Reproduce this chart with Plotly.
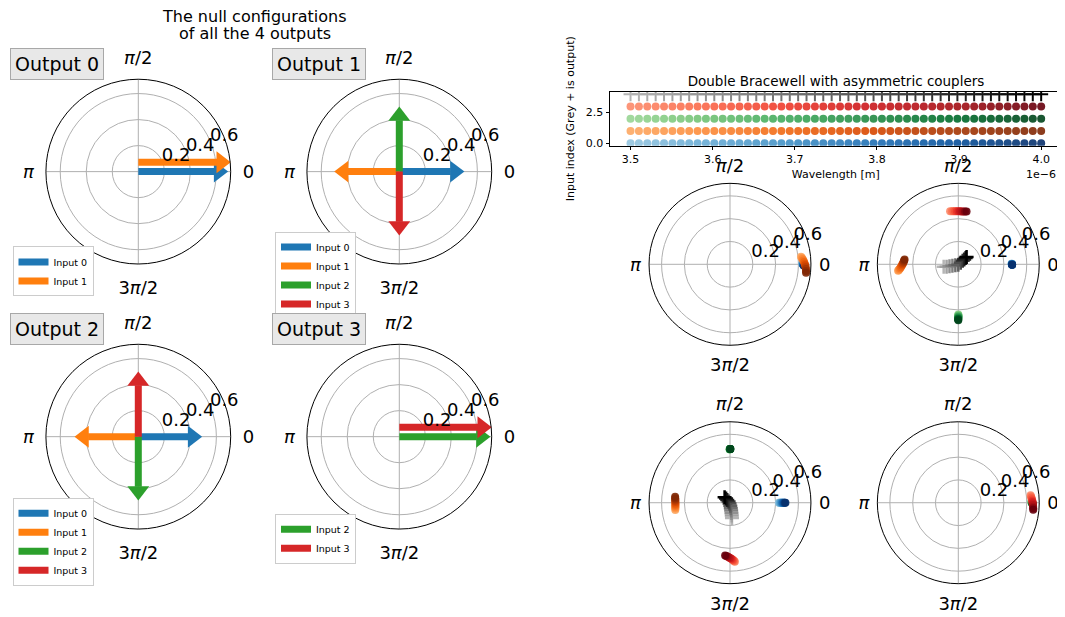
import numpy as np
import plotly.graph_objects as go
import plotly.colors as pc

FONT = "DejaVu Sans"
W, H = 1065, 617
BODY = 8                      # page body margin of the html page (px)
FW, FH = W - BODY, H - BODY   # figure size inside the window

# ---------------- data: null configurations (left, arrows) ----------------
input_names = ["Input 0", "Input 1", "Input 2", "Input 3"]
input_colors = ["#1f77b4", "#ff7f0e", "#2ca02c", "#d62728"]

null_inputs = [[0, 1], [0, 1, 2, 3], [0, 1, 2, 3], [2, 3]]
null_amp = [[0.69, 0.71], [0.50, 0.50, 0.50, 0.49], [0.49, 0.49, 0.49, 0.50], [0.70, 0.71]]
null_phase_deg = [[0, 0], [0, 180, 90, 270], [0, 180, 270, 90], [0, 0]]
null_offset = [[0.0, 0.072], [0.0, 0.0, 0.0, 0.0], [0.0, 0.0, 0.0, 0.0], [0.0, 0.072]]

# ---------------- data: wavelength scan (top right) ----------------
wavelength_um = [3.5000, 3.5102, 3.5204, 3.5306, 3.5408, 3.5510, 3.5612, 3.5714, 3.5816, 3.5918,
                 3.6020, 3.6122, 3.6224, 3.6327, 3.6429, 3.6531, 3.6633, 3.6735, 3.6837, 3.6939,
                 3.7041, 3.7143, 3.7245, 3.7347, 3.7449, 3.7551, 3.7653, 3.7755, 3.7857, 3.7959,
                 3.8061, 3.8163, 3.8265, 3.8367, 3.8469, 3.8571, 3.8673, 3.8776, 3.8878, 3.8980,
                 3.9082, 3.9184, 3.9286, 3.9388, 3.9490, 3.9592, 3.9694, 3.9796, 3.9898, 4.0000]
row_index = [0, 1, 2, 3, 4]          # inputs 0..3, 4 = output (grey +)
row_cmaps = ["Blues", "Oranges", "Greens", "Reds", "Greys"]
x_tick_vals_um = [3.5, 3.6, 3.7, 3.8, 3.9, 4.0]
x_tick_text = ["3.5", "3.6", "3.7", "3.8", "3.9", "4.0"]
y_tick_vals = [0.0, 2.5]
y_tick_text = ["0.0", "2.5"]

# ---------------- data: complex amplitudes per output (bottom right) -------
# radius and phase (deg), sampled from 3.5 um (first) to 4.0 um (last)
# Output 0
o0_in0_r = [0.634, 0.635, 0.637, 0.638, 0.640, 0.641, 0.643, 0.645, 0.646, 0.648, 0.650]
o0_in0_t = [0.8, 0.6, 0.4, 0.2, 0.0, -0.2, -0.4, -0.6, -0.8, -1.0, -1.2]
o0_in1_r = [0.626, 0.632, 0.638, 0.644, 0.650, 0.655, 0.660, 0.664, 0.667, 0.669, 0.671]
o0_in1_t = [6.0, 5.2, 4.2, 3.0, 1.8, 0.5, -0.8, -2.2, -3.6, -5.0, -6.4]
# Output 1
o1_in0_r = [0.468, 0.468, 0.469, 0.469, 0.470, 0.470, 0.471, 0.471, 0.472, 0.472, 0.472]
o1_in0_t = [0.6, 0.5, 0.4, 0.2, 0.1, 0.0, -0.1, -0.2, -0.4, -0.5, -0.6]
o1_in1_r = [0.531, 0.526, 0.519, 0.511, 0.503, 0.496, 0.489, 0.484, 0.479, 0.476, 0.473]
o1_in1_t = [186.2, 185.6, 184.8, 183.8, 182.6, 181.3, 180.0, 178.7, 177.4, 176.1, 174.8]
o1_in2_r = [0.440, 0.445, 0.450, 0.455, 0.460, 0.465, 0.470, 0.475, 0.480, 0.485, 0.490]
o1_in2_t = [270.0, 270.0, 270.1, 270.1, 270.1, 270.0, 270.0, 269.9, 269.9, 269.9, 270.0]
o1_in3_r = [0.470, 0.468, 0.467, 0.466, 0.465, 0.465, 0.465, 0.465, 0.466, 0.467, 0.468]
o1_in3_t = [98.8, 97.0, 95.2, 93.4, 91.6, 89.8, 88.0, 86.3, 84.5, 82.8, 81.1]
o1_out_r = [0.130, 0.105, 0.079, 0.053, 0.027, 0.004, 0.025, 0.049, 0.067, 0.085, 0.097]
o1_out_t = [189.5, 191.8, 192.5, 194.0, 198.4, 270.0, 31.0, 37.9, 39.8, 40.9, 41.4]
# Output 2
o2_in0_r = [0.428, 0.434, 0.440, 0.446, 0.452, 0.457, 0.463, 0.469, 0.475, 0.480, 0.486]
o2_in0_t = [0.0, 0.0, 0.0, 0.0, 0.0, 0.0, 0.0, 0.0, 0.0, 0.0, 0.0]
o2_in1_r = [0.484, 0.482, 0.481, 0.480, 0.479, 0.479, 0.479, 0.480, 0.481, 0.482, 0.484]
o2_in1_t = [187.5, 186.1, 184.8, 183.4, 182.0, 180.7, 179.3, 177.9, 176.5, 175.2, 173.8]
o2_in2_r = [0.469, 0.469, 0.470, 0.470, 0.470, 0.471, 0.471, 0.471, 0.472, 0.472, 0.472]
o2_in2_t = [90.4, 90.3, 90.3, 90.2, 90.1, 90.0, 89.9, 89.8, 89.8, 89.7, 89.6]
o2_in3_r = [0.520, 0.514, 0.508, 0.502, 0.496, 0.490, 0.484, 0.478, 0.473, 0.469, 0.465]
o2_in3_t = [274.7, 274.2, 273.6, 272.9, 272.0, 271.0, 269.9, 268.7, 267.4, 266.0, 264.7]
o2_out_r = [0.134, 0.112, 0.091, 0.069, 0.048, 0.026, 0.008, 0.016, 0.034, 0.050, 0.067]
o2_out_t = [277.4, 277.9, 278.1, 278.5, 278.3, 275.7, 238.0, 141.3, 135.0, 133.6, 135.0]
# Output 3
o3_in2_r = [0.640, 0.641, 0.643, 0.644, 0.646, 0.647, 0.649, 0.650, 0.652, 0.653, 0.655]
o3_in2_t = [0.8, 0.6, 0.4, 0.2, 0.0, -0.2, -0.4, -0.6, -0.8, -1.0, -1.2]
o3_in3_r = [0.637, 0.640, 0.643, 0.646, 0.649, 0.651, 0.653, 0.655, 0.657, 0.659, 0.660]
o3_in3_t = [5.9, 4.9, 3.8, 2.7, 1.6, 0.5, -0.6, -1.8, -3.0, -4.2, -5.4]

scan_series = [
    [(0, o0_in0_r, o0_in0_t), (1, o0_in1_r, o0_in1_t)],
    [(0, o1_in0_r, o1_in0_t), (1, o1_in1_r, o1_in1_t), (2, o1_in2_r, o1_in2_t),
     (3, o1_in3_r, o1_in3_t), (4, o1_out_r, o1_out_t)],
    [(0, o2_in0_r, o2_in0_t), (1, o2_in1_r, o2_in1_t), (2, o2_in2_r, o2_in2_t),
     (3, o2_in3_r, o2_in3_t), (4, o2_out_r, o2_out_t)],
    [(2, o3_in2_r, o3_in2_t), (3, o3_in3_r, o3_in3_t)],
]

RMAX = 0.71
r_tick_vals = [0.2, 0.4, 0.6]
r_tick_text = ["0.2", "0.4", "0.6"]


def cmap(name, n, lo=0.4, hi=1.0):
    scale = getattr(pc.sequential, name)
    pts = [lo + (hi - lo) * i / (n - 1) for i in range(n)]
    return pc.sample_colorscale(scale, pts)


def PX(x):
    return (x - BODY) / FW


def PY(y):
    return 1 - (y - BODY) / FH


fig = go.Figure()

# ---------------- polar layouts ----------------
ang_text = ["0", "<i>π</i>/2", "<i>π</i>", "3<i>π</i>/2"]


def polar_layout(cx, cy, R, tl):
    return dict(
        domain=dict(x=[PX(cx - R), PX(cx + R)], y=[PY(cy + R), PY(cy - R)]),
        bgcolor="white",
        radialaxis=dict(range=[0, RMAX], tickvals=r_tick_vals, showticklabels=False,
                        angle=22.5, showline=False, ticks="", gridcolor="#b0b0b0",
                        gridwidth=0.8),
        angularaxis=dict(rotation=0, direction="counterclockwise", thetaunit="degrees",
                         tickmode="array", tickvals=[0, 90, 180, 270], ticktext=ang_text,
                         showline=True, linecolor="black", linewidth=1,
                         gridcolor="#b0b0b0", gridwidth=0.8, ticks="outside", ticklen=tl,
                         tickcolor="rgba(0,0,0,0)",
                         tickfont=dict(size=18, color="black", family=FONT)),
    )


left_centers = [(138.3, 172.7), (399.3, 172.7), (138.3, 439.5), (399.3, 439.5)]
right_centers = [(730.0, 266.0), (958.3, 266.0), (730.0, 506.0), (958.3, 506.0)]
R_LEFT, R_RIGHT = 93.0, 81.5

layout_polars = {}
for i, (cx, cy) in enumerate(left_centers):
    layout_polars["polar" + ("" if i == 0 else str(i + 1))] = polar_layout(cx, cy, R_LEFT, 8)
for i, (cx, cy) in enumerate(right_centers):
    layout_polars["polar" + str(i + 5)] = polar_layout(cx, cy, R_RIGHT, 4)

# ---------------- arrows (left) ----------------
px_per_unit = R_LEFT / RMAX
HEAD = 19                     # marker size of arrow head
head_c = (HEAD / 2) / px_per_unit        # tip -> marker centre
head_b = (HEAD * 0.72) / px_per_unit     # tip -> head base

for k in range(4):
    sub = "polar" + ("" if k == 0 else str(k + 1))
    leg = "legend" + ("" if k == 0 else str(k + 1))
    for inp, amp, ph, off in zip(null_inputs[k], null_amp[k], null_phase_deg[k], null_offset[k]):
        phr = np.deg2rad(ph)
        d = np.array([np.cos(phr), np.sin(phr)])
        nrm = np.array([-d[1], d[0]])
        tail = off * nrm
        tip = tail + amp * d
        shaft_end = tip - head_b * d
        head_pos = tip - head_c * d
        pts = np.array([tail, shaft_end])
        r = np.hypot(pts[:, 0], pts[:, 1])
        th = np.rad2deg(np.arctan2(pts[:, 1], pts[:, 0]))
        if r[0] < 1e-9:
            th[0] = th[1]
        fig.add_trace(go.Scatterpolar(r=r, theta=th, mode="lines", subplot=sub,
                                      line=dict(color=input_colors[inp], width=7),
                                      showlegend=False, hoverinfo="skip"))
        fig.add_trace(go.Scatterpolar(r=[np.hypot(*head_pos)],
                                      theta=[np.rad2deg(np.arctan2(head_pos[1], head_pos[0]))],
                                      mode="markers", subplot=sub,
                                      marker=dict(symbol="triangle-up", size=HEAD,
                                                  color=input_colors[inp], angle=90 - ph,
                                                  line=dict(width=0)),
                                      showlegend=False, hoverinfo="skip"))
    for inp in null_inputs[k]:
        fig.add_trace(go.Scatterpolar(r=[None], theta=[None], mode="lines", subplot=sub,
                                      line=dict(color=input_colors[inp], width=7),
                                      name=input_names[inp], legend=leg, showlegend=True))

# ---------------- wavelength scan (top right) ----------------
wl_m = [w * 1e-6 for w in wavelength_um]
for k in row_index:
    cols = cmap(row_cmaps[k], len(wl_m))
    if k < 4:
        fig.add_trace(go.Scatter(x=wl_m, y=[k] * len(wl_m), mode="markers",
                                 marker=dict(size=8, color=cols, opacity=0.9, line=dict(width=0)),
                                 showlegend=False, xaxis="x", yaxis="y"))
    else:
        fig.add_trace(go.Scatter(x=wl_m, y=[k] * len(wl_m), mode="markers",
                                 marker=dict(size=10, symbol="cross-thin", color=cols,
                                             line=dict(width=2, color=cols)),
                                 showlegend=False, xaxis="x", yaxis="y"))

# ---------------- complex amplitudes (bottom right) ----------------
for k, series in enumerate(scan_series):
    sub = "polar" + str(k + 5)
    for inp, rr, tt in series:
        cols = cmap(row_cmaps[inp], len(rr))
        if inp < 4:
            mk = dict(size=8, color=cols, opacity=0.9, line=dict(width=0))
        else:
            mk = dict(size=10, symbol="cross-thin", color=cols, line=dict(width=2.5, color=cols))
        fig.add_trace(go.Scatterpolar(r=rr, theta=tt, mode="markers", subplot=sub,
                                      marker=mk, showlegend=False, hoverinfo="skip"))

# ---------------- radial tick labels (matplotlib-like placement) ----------------
ux, uy = np.cos(np.deg2rad(22.5)), np.sin(np.deg2rad(22.5))
for k in range(8):
    sub = "polar" + ("" if k == 0 else str(k + 1))
    if k < 4:
        ppu, dx, dy = R_LEFT / RMAX, -0.5, 5.5
    else:
        ppu, dx, dy = R_RIGHT / RMAX, 0.3, 3.0
    rv = np.array(r_tick_vals) * ppu
    px_ = rv * ux + dx
    py_ = rv * uy + dy
    rr = np.hypot(px_, py_) / ppu
    tt = np.rad2deg(np.arctan2(py_, px_))
    fig.add_trace(go.Scatterpolar(r=rr, theta=tt, mode="text", text=r_tick_text, subplot=sub,
                                  textposition="middle right", cliponaxis=False,
                                  textfont=dict(size=18, color="black", family=FONT),
                                  showlegend=False, hoverinfo="skip"))

# ---------------- layout ----------------
legend_common = dict(font=dict(size=9.5, family=FONT, color="black"), bgcolor="white",
                     bordercolor="#cccccc", borderwidth=1, xanchor="left", yanchor="top",
                     itemwidth=30, tracegroupgap=0)
legend_pos = [(12.5, 248), (275, 233), (12.5, 501), (275, 517)]
legends = {}
for i, (lx, ly) in enumerate(legend_pos):
    key = "legend" + ("" if i == 0 else str(i + 1))
    legends[key] = dict(legend_common, x=PX(lx), y=PY(ly))

annotations = [
    dict(text="The null configurations", x=PX(254), y=PY(16.5), xref="paper", yref="paper",
         showarrow=False, xanchor="center", yanchor="middle",
         font=dict(size=16, family=FONT, color="black")),
    dict(text="of all the 4 outputs", x=PX(255), y=PY(33.5), xref="paper", yref="paper",
         showarrow=False, xanchor="center", yanchor="middle",
         font=dict(size=16, family=FONT, color="black")),
    dict(text="1e−6", x=PX(1041), y=PY(176), xref="paper", yref="paper", showarrow=False,
         xanchor="center", yanchor="middle", font=dict(size=11, family=FONT, color="black")),
]
box_centers = [(57, 64), (319, 64), (57, 331), (319, 331)]
for i, (bx, by) in enumerate(box_centers):
    annotations.append(dict(text="Output %d" % i, x=PX(bx), y=PY(by), xref="paper",
                            yref="paper", showarrow=False, xanchor="center", yanchor="middle",
                            font=dict(size=19, family=FONT, color="black"),
                            bgcolor="#e8e8e8", bordercolor="#a8a8a8", borderwidth=1,
                            borderpad=4))

fig.update_layout(
    width=FW, height=FH, margin=dict(l=0, r=0, t=0, b=0),
    paper_bgcolor="white", plot_bgcolor="white",
    font=dict(family=FONT, color="black"),
    title=dict(text="Double Bracewell with asymmetric couplers", x=PX(836), y=PY(81),
               xanchor="center", yanchor="middle", font=dict(size=13.5, family=FONT)),
    xaxis=dict(domain=[PX(610), PX(1061.7)], range=[3.475e-6, 4.025e-6],
               tickvals=[v * 1e-6 for v in x_tick_vals_um], ticktext=x_tick_text,
               showline=True, mirror=True, linecolor="black", linewidth=1,
               ticks="outside", ticklen=3.5, tickcolor="black", showgrid=False, zeroline=False,
               tickfont=dict(size=11), title=dict(text="Wavelength [m]", font=dict(size=11),
                                                  standoff=4)),
    yaxis=dict(domain=[PY(146.7), PY(92.3)], range=[-0.2, 4.2],
               tickvals=y_tick_vals, ticktext=y_tick_text,
               showline=True, mirror=True, linecolor="black", linewidth=1,
               ticks="outside", ticklen=3.5, tickcolor="black", showgrid=False, zeroline=False,
               tickfont=dict(size=11), title=dict(text="Input index (Grey + is output)",
                                                  font=dict(size=11), standoff=8)),
    annotations=annotations,
    **layout_polars,
    **legends,
)

fig.write_html("out.html")
